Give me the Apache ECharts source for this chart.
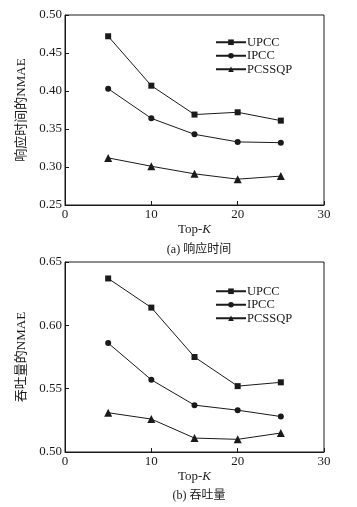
<!DOCTYPE html>
<html>
<head>
<meta charset="utf-8">
<script src="https://cdn.jsdelivr.net/npm/echarts@6/dist/echarts.min.js"></script>
<style>
  html, body { margin: 0; padding: 0; background: #fff; }
  #chart { width: 357px; height: 507px; }
</style>
</head>
<body>
<div id="chart"></div>
<script>
// 横轴 Top-K
const topK = [5, 10, 15, 20, 25];
const seriesNames = ['UPCC', 'IPCC', 'PCSSQP'];
const seriesSymbols = ['rect', 'circle', 'triangle'];

// (a) 响应时间
const rtUPCC = [0.472, 0.407, 0.369, 0.372, 0.361];
const rtIPCC = [0.403, 0.364, 0.343, 0.333, 0.332];
const rtPCSSQP = [0.312, 0.301, 0.291, 0.284, 0.288];

// (b) 吞吐量
const tpUPCC = [0.637, 0.614, 0.575, 0.552, 0.555];
const tpIPCC = [0.586, 0.557, 0.537, 0.533, 0.528];
const tpPCSSQP = [0.531, 0.526, 0.511, 0.510, 0.515];

const xTicks = [0, 10, 20, 30];
const rtTicks = [0.25, 0.50, 0.05];   // min, max, interval
const tpTicks = [0.50, 0.65, 0.05];

const font = "'Liberation Serif', 'Noto Sans CJK SC', serif";
const ink = '#1a1a1a';

function pairs(vals) {
  return topK.map((k, i) => [k, vals[i]]);
}

function xAxisCfg(gridIndex) {
  return {
    gridIndex: gridIndex,
    type: 'value',
    min: xTicks[0],
    max: xTicks[xTicks.length - 1],
    interval: 10,
    name: '{a|Top-}{b|K}',
    nameLocation: 'middle',
    nameGap: 18,
    nameTextStyle: {
      rich: {
        a: { fontFamily: font, fontSize: 13, color: ink },
        b: { fontFamily: font, fontSize: 13, color: ink, fontStyle: 'italic' }
      }
    },
    axisLine: { lineStyle: { color: ink, width: 1 } },
    axisTick: { inside: true, length: 4, lineStyle: { color: ink } },
    axisLabel: { fontFamily: font, fontSize: 13, color: ink, margin: 3 },
    splitLine: { show: false }
  };
}

function yAxisCfg(gridIndex, ticks, title) {
  return {
    gridIndex: gridIndex,
    type: 'value',
    min: ticks[0],
    max: ticks[1],
    interval: ticks[2],
    name: title,
    nameLocation: 'middle',
    nameGap: 36,
    nameTextStyle: { fontFamily: font, fontSize: 13, color: ink },
    axisLine: { show: true, lineStyle: { color: ink, width: 1 } },
    axisTick: { inside: true, length: 4, lineStyle: { color: ink } },
    axisLabel: {
      fontFamily: font, fontSize: 13, color: ink, margin: 3,
      formatter: v => v.toFixed(2)
    },
    splitLine: { show: false }
  };
}

function lineSeries(name, symbol, vals, idx) {
  return {
    name: name,
    type: 'line',
    xAxisIndex: idx,
    yAxisIndex: idx,
    data: pairs(vals),
    symbol: symbol,
    symbolSize: symbol === 'triangle' ? 8 : 6,
    lineStyle: { color: ink, width: 1 },
    itemStyle: { color: ink },
    animation: false
  };
}

function legendCfg(top) {
  return {
    orient: 'vertical',
    left: 210,
    top: top,
    itemWidth: 30,
    itemHeight: 7,
    itemGap: 1,
    data: seriesNames,
    textStyle: { fontFamily: font, fontSize: 12.5, color: ink, padding: [0, 0, 0, -4] },
    selectedMode: false
  };
}

const chart = echarts.init(document.getElementById('chart'), null, { renderer: 'canvas' });
chart.setOption({
  backgroundColor: '#fff',
  animation: false,
  title: [
    {
      text: '(a) 响应时间',
      left: 194, top: 239, textAlign: 'center',
      textStyle: { fontFamily: font, fontSize: 12, fontWeight: 'normal', color: ink }
    },
    {
      text: '(b) 吞吐量',
      left: 194, top: 485, textAlign: 'center',
      textStyle: { fontFamily: font, fontSize: 12, fontWeight: 'normal', color: ink }
    }
  ],
  legend: [legendCfg(31), legendCfg(280)],
  grid: [
    { left: 65, right: 33, top: 15, height: 190, show: true, borderColor: ink, borderWidth: 1 },
    { left: 65, right: 33, top: 262, height: 190, show: true, borderColor: ink, borderWidth: 1 }
  ],
  xAxis: [xAxisCfg(0), xAxisCfg(1)],
  yAxis: [yAxisCfg(0, rtTicks, '响应时间的NMAE'), yAxisCfg(1, tpTicks, '吞吐量的NMAE')],
  series: [
    lineSeries(seriesNames[0], seriesSymbols[0], rtUPCC, 0),
    lineSeries(seriesNames[1], seriesSymbols[1], rtIPCC, 0),
    lineSeries(seriesNames[2], seriesSymbols[2], rtPCSSQP, 0),
    lineSeries(seriesNames[0], seriesSymbols[0], tpUPCC, 1),
    lineSeries(seriesNames[1], seriesSymbols[1], tpIPCC, 1),
    lineSeries(seriesNames[2], seriesSymbols[2], tpPCSSQP, 1)
  ]
});
</script>
</body>
</html>
